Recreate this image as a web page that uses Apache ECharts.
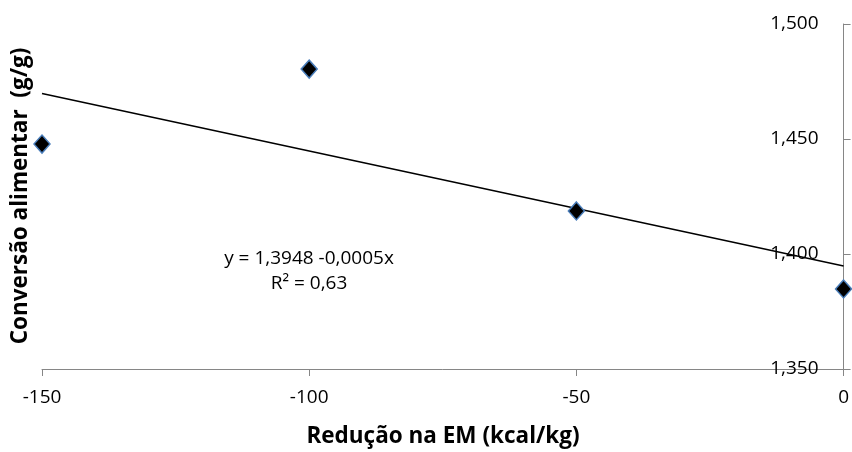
<!DOCTYPE html>
<html>
<head>
<meta charset="utf-8">
<script src="https://cdn.jsdelivr.net/npm/echarts@6/dist/echarts.min.js"></script>
<style>
html,body{margin:0;padding:0;background:#fff;}
#chart{width:852px;height:452px;}
</style>
</head>
<body>
<div id="chart"></div>
<script>
// Data
const reductionEM = [-150, -100, -50, 0];
const feedConversion = [1.4478, 1.4804, 1.4187, 1.3848];
const trendX = [-150, 0];
const trendY = [1.4698, 1.3948];
const xTicks = { min: -150, max: 0, interval: 50 };
const yTicks = { min: 1.35, max: 1.5, interval: 0.05 };
const xTitle = 'Redução na EM (kcal/kg)';
const yTitle = 'Conversão alimentar  (g/g)';
const eqLine1 = 'y = 1,3948 -0,0005x';
const eqLine2 = 'R² = 0,63';

const FONT = '"Open Sans", sans-serif';
const chart = echarts.init(document.getElementById('chart'), null, {renderer: 'canvas'});
const axisGray = '#868686';

chart.setOption({
  animation: false,
  backgroundColor: '#ffffff',
  grid: { left: 42, right: 8, top: 24, bottom: 83, containLabel: false },
  xAxis: {
    type: 'value',
    min: xTicks.min, max: xTicks.max, interval: xTicks.interval,
    axisLine: { show: true, onZero: false, lineStyle: { color: axisGray, width: 1 } },
    axisTick: { show: true, inside: false, length: 7, lineStyle: { color: axisGray } },
    splitLine: { show: false },
    axisLabel: { color: '#000', fontFamily: FONT, fontSize: 19, margin: 19 },
  },
  yAxis: {
    type: 'value',
    position: 'right',
    min: yTicks.min, max: yTicks.max, interval: yTicks.interval,
    axisLine: { show: true, onZero: false, lineStyle: { color: axisGray, width: 1 } },
    axisTick: { show: true, inside: false, length: 7, lineStyle: { color: axisGray } },
    splitLine: { show: false },
    axisLabel: {
      inside: true, margin: 25, color: '#000', fontFamily: FONT, fontSize: 19,
      formatter: v => v.toFixed(3).replace('.', ',')
    },
  },
  graphic: [
    {
      type: 'text', x: 21, y: 196, rotation: Math.PI / 2,
      style: { text: yTitle, font: 'bold 22.5px ' + FONT, fill: '#000', textAlign: 'center', textVerticalAlign: 'middle' }
    },
    {
      type: 'text', x: 443, y: 437,
      style: { text: xTitle, font: 'bold 22.5px ' + FONT, fill: '#000', textAlign: 'center', textVerticalAlign: 'middle' }
    },
    {
      type: 'text', x: 309, y: 259,
      style: { text: eqLine1, font: '19px ' + FONT, fill: '#000', textAlign: 'center', textVerticalAlign: 'middle' }
    },
    {
      type: 'text', x: 309, y: 284,
      style: { text: eqLine2, font: '19px ' + FONT, fill: '#000', textAlign: 'center', textVerticalAlign: 'middle' }
    }
  ],
  series: [
    {
      type: 'line',
      data: trendX.map((x, i) => [x, trendY[i]]),
      showSymbol: false, symbol: 'none',
      lineStyle: { color: '#000', width: 1.5 },
      silent: true, z: 2
    },
    {
      type: 'scatter',
      data: reductionEM.map((x, i) => [x, feedConversion[i]]),
      symbol: 'diamond', symbolSize: [16, 18],
      itemStyle: { color: '#000', borderColor: '#4a7ebb', borderWidth: 1.5, opacity: 1 },
      z: 3
    }
  ]
});
</script>
</body>
</html>
